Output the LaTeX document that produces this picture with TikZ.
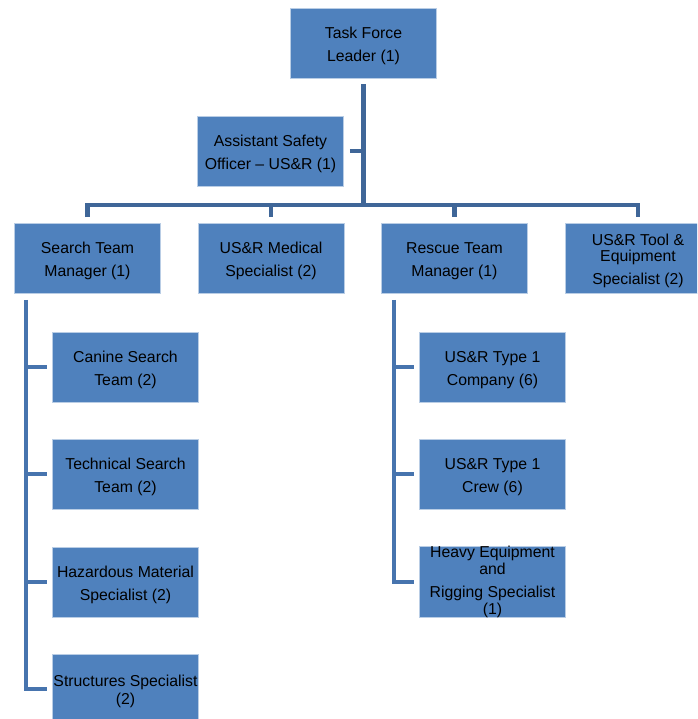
\documentclass[tikz,border=0pt]{standalone}
\usepackage{fontspec}
\setmainfont{Liberation Sans}
\definecolor{boxfill}{HTML}{4F81BD}
\definecolor{boxline}{HTML}{B9CDE5}
\definecolor{conntop}{HTML}{3F6698}
\definecolor{connlow}{HTML}{4774AE}
\newcommand\myst{\rule{0pt}{16.5pt}}
\begin{document}
\begin{tikzpicture}[x=1pt,y=-1pt,
  orgbox/.style={rectangle, fill=boxfill, draw=boxline, line width=0.6pt,
    minimum width=146pt, minimum height=70pt, inner sep=0pt, align=center,
    font=\fontsize{15.8}{16.5}\selectfont},
  conn/.style={draw=conntop, line width=4.6pt, line join=miter},
  connb/.style={draw=connlow, line width=4.4pt, line join=miter}]
\clip (0,0) rectangle (697,719);
\fill[white] (0,0) rectangle (697,719);
% top level
\node[orgbox] (tfl) at (363.5,43) {\myst Task Force\\[6.5pt]Leader (1)};
\node[orgbox] (aso) at (270.5,151) {\myst Assistant Safety\\[6.5pt]Officer – US\&R (1)};
% second level
\node[orgbox] (stm) at (87.5,258.5) {\myst Search Team\\[6.5pt]Manager (1)};
\node[orgbox] (med) at (271,258.5) {\myst US\&R Medical\\[6.5pt]Specialist (2)};
\node[orgbox] (rtm) at (454.5,258.5) {\myst Rescue Team\\[6.5pt]Manager (1)};
\node[orgbox] (tool) at (638,258.5) {\myst US\&R Tool \&\\Equipment\\[6.5pt]Specialist (2)};
% search children
\node[orgbox] (c1) at (125.5,367) {\myst Canine Search\\[6.5pt]Team (2)};
\node[orgbox] (c2) at (125.5,474) {\myst Technical Search\\[6.5pt]Team (2)};
\node[orgbox] (c3) at (125.5,582) {\myst Hazardous Material\\[6.5pt]Specialist (2)};
\node[orgbox] (c4) at (125.5,689) {\myst Structures Specialist\\[1.5pt](2)};
% rescue children
\node[orgbox] (r1) at (492.5,367) {\myst US\&R Type 1\\[6.5pt]Company (6)};
\node[orgbox] (r2) at (492.5,474) {\myst US\&R Type 1\\[6.5pt]Crew (6)};
\node[orgbox] (r3) at (492.5,582) {Heavy Equipment\\and\\[6.5pt]Rigging Specialist\\[0.5pt](1)};
% helper coordinates
\coordinate (bar) at (0,205);
\coordinate (lv) at (26,0);
\coordinate (rv) at (394,0);
\coordinate (tflb) at ([yshift=-6pt]tfl.south);
\coordinate (asoe) at ([xshift=6pt]aso.east);
\coordinate (stmb) at ([yshift=-6pt]stm.south);
\coordinate (rtmb) at ([yshift=-6pt]rtm.south);
% top connectors
\draw[conn] (tflb) -- (tflb |- bar);
\draw[conn] (asoe) -- (asoe -| tflb);
\draw[conn] ([yshift=6pt]stm.north) -- (stm.north |- bar) -- (tool.north |- bar) -- ([yshift=6pt]tool.north);
\draw[conn] (med.north |- bar) -- ([yshift=6pt]med.north);
\draw[conn] (rtm.north |- bar) -- ([yshift=6pt]rtm.north);
% search team branch
\draw[connb] (stmb -| lv) -- (c4 -| lv) -- ([xshift=-5pt]c4.west);
\draw[connb] (c1 -| lv) -- ([xshift=-5pt]c1.west);
\draw[connb] (c2 -| lv) -- ([xshift=-5pt]c2.west);
\draw[connb] (c3 -| lv) -- ([xshift=-5pt]c3.west);
% rescue team branch
\draw[connb] (rtmb -| rv) -- (r3 -| rv) -- ([xshift=-5pt]r3.west);
\draw[connb] (r1 -| rv) -- ([xshift=-5pt]r1.west);
\draw[connb] (r2 -| rv) -- ([xshift=-5pt]r2.west);
\end{tikzpicture}
\end{document}
